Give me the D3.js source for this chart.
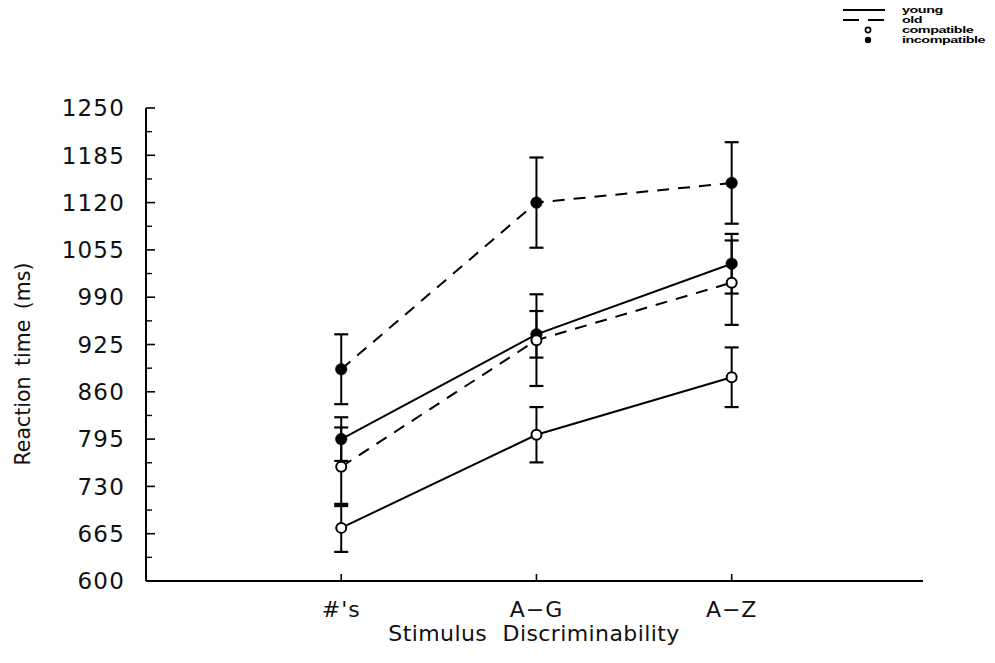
<!DOCTYPE html>
<html>
<head>
<meta charset="utf-8">
<script src="https://cdn.jsdelivr.net/npm/d3@7"></script>
<style>
  html, body { margin: 0; padding: 0; background: #fff; }
  svg { display: block; }
  .tick-label { font-family: "DejaVu Sans", sans-serif; font-size: 23px; fill: #111; letter-spacing: 1.2px; }
  .cat-label { font-family: "DejaVu Sans", sans-serif; font-size: 22px; fill: #111; letter-spacing: 1px; }
  .axis-title { font-family: "DejaVu Sans", sans-serif; font-size: 22px; fill: #111; }
  .legend-text { font-family: "Liberation Sans", Arial, sans-serif; font-size: 9px; font-weight: bold; fill: #000; letter-spacing: -0.3px; }
</style>
</head>
<body>
<svg id="chart" width="995" height="663"></svg>
<script>
// Stimulus discriminability conditions
const categories = ["#'s", "A-G", "A-Z"];

// Mean reaction times (ms) per age group and compatibility
const youngCompatible   = [673, 801, 880];
const youngIncompatible = [795, 939, 1036];
const oldCompatible     = [757, 931, 1010];
const oldIncompatible   = [891, 1120, 1147];

// Error bar half-lengths (ms)
const youngCompatibleErr   = [33, 38, 41];
const youngIncompatibleErr = [30, 32, 41];
const oldCompatibleErr     = [54, 63, 58];
const oldIncompatibleErr   = [48, 62, 56];

// Y axis tick values
const yTicks = [600, 665, 730, 795, 860, 925, 990, 1055, 1120, 1185, 1250];

const series = [
  { name: "young compatible",   values: youngCompatible,   err: youngCompatibleErr,   dashed: false, filled: false },
  { name: "young incompatible", values: youngIncompatible, err: youngIncompatibleErr, dashed: false, filled: true },
  { name: "old compatible",     values: oldCompatible,     err: oldCompatibleErr,     dashed: true,  filled: false },
  { name: "old incompatible",   values: oldIncompatible,   err: oldIncompatibleErr,   dashed: true,  filled: true }
];

const svg = d3.select("#chart");
const ink = "#000";

const x = d3.scaleLinear().domain([0, 3.98]).range([146, 923]);
const y = d3.scaleLinear().domain([600, 1250]).range([581, 108]);
const xPos = i => x(i + 1);

// Y axis: major ticks plus minor ticks halfway, pointing inward
const minorTicks = d3.range(600 + 32.5, 1250, 65);
svg.append("line")
  .attr("x1", x(0)).attr("x2", x(0))
  .attr("y1", y(1250)).attr("y2", y(600))
  .attr("stroke", ink).attr("stroke-width", 2);
svg.selectAll(".ymaj").data(yTicks).enter().append("line")
  .attr("x1", x(0)).attr("x2", x(0) + 9)
  .attr("y1", d => y(d)).attr("y2", d => y(d))
  .attr("stroke", ink).attr("stroke-width", 1.6);
svg.selectAll(".ymin").data(minorTicks).enter().append("line")
  .attr("x1", x(0)).attr("x2", x(0) + 6)
  .attr("y1", d => y(d)).attr("y2", d => y(d))
  .attr("stroke", ink).attr("stroke-width", 1.4);
svg.selectAll(".ylab").data(yTicks).enter().append("text")
  .attr("class", "tick-label")
  .attr("x", x(0) - 21)
  .attr("y", d => y(d))
  .attr("dy", "0.36em")
  .attr("text-anchor", "end")
  .text(d => d);

// X axis with small upward ticks at each condition
svg.append("line")
  .attr("x1", x(0)).attr("x2", x(3.98))
  .attr("y1", y(600)).attr("y2", y(600))
  .attr("stroke", ink).attr("stroke-width", 2);
svg.selectAll(".xt").data(categories).enter().append("line")
  .attr("x1", (d, i) => xPos(i)).attr("x2", (d, i) => xPos(i))
  .attr("y1", y(600)).attr("y2", y(600) - 7)
  .attr("stroke", ink).attr("stroke-width", 1.6);
svg.selectAll(".xlab").data(categories).enter().append("text")
  .attr("class", "cat-label")
  .attr("x", (d, i) => xPos(i))
  .attr("y", 617)
  .attr("text-anchor", "middle")
  .text(d => d.replace("-", "\u2212"));

// Axis titles
svg.append("text").attr("class", "axis-title")
  .attr("x", 534).attr("y", 641)
  .attr("text-anchor", "middle")
  .attr("word-spacing", "8px")
  .attr("letter-spacing", "0.4px")
  .text("Stimulus Discriminability");
svg.append("text").attr("class", "axis-title")
  .attr("transform", "translate(30,364) rotate(-90)")
  .attr("text-anchor", "middle")
  .style("font-size", "20.5px")
  .attr("word-spacing", "4px")
  .text("Reaction time (ms)");

// Connecting lines
const line = d3.line().x((d, i) => xPos(i)).y(d => y(d));
series.forEach(s => {
  svg.append("path")
    .datum(s.values)
    .attr("d", line)
    .attr("fill", "none")
    .attr("stroke", ink)
    .attr("stroke-width", 2)
    .attr("stroke-dasharray", s.dashed ? "12,9" : null);
});

// Error bars with caps
series.forEach(s => {
  const g = svg.append("g");
  s.values.forEach((v, i) => {
    const cx = xPos(i);
    const lo = y(v - s.err[i]), hi = y(v + s.err[i]);
    g.append("line").attr("x1", cx).attr("x2", cx).attr("y1", lo).attr("y2", hi)
      .attr("stroke", ink).attr("stroke-width", 2);
    [lo, hi].forEach(yy => {
      g.append("line").attr("x1", cx - 7).attr("x2", cx + 7).attr("y1", yy).attr("y2", yy)
        .attr("stroke", ink).attr("stroke-width", 2.2);
    });
  });
});

// Markers
series.forEach(s => {
  svg.selectAll(null).data(s.values).enter().append("circle")
    .attr("cx", (d, i) => xPos(i))
    .attr("cy", d => y(d))
    .attr("r", s.filled ? 5.8 : 5)
    .attr("fill", s.filled ? ink : "#fff")
    .attr("stroke", ink)
    .attr("stroke-width", s.filled ? 0.5 : 2);
});

// Legend
const lg = svg.append("g");
lg.append("line").attr("x1", 843).attr("x2", 885).attr("y1", 10).attr("y2", 10)
  .attr("stroke", ink).attr("stroke-width", 2);
lg.append("line").attr("x1", 843).attr("x2", 885).attr("y1", 20).attr("y2", 20)
  .attr("stroke", ink).attr("stroke-width", 2).attr("stroke-dasharray", "16,9");
lg.append("circle").attr("cx", 868).attr("cy", 30).attr("r", 2.6)
  .attr("fill", "#fff").attr("stroke", ink).attr("stroke-width", 1.6);
lg.append("circle").attr("cx", 868).attr("cy", 40).attr("r", 3.2).attr("fill", ink);
const legendLabels = ["young", "old", "compatible", "incompatible"];
const lgText = lg.append("g").attr("transform", "translate(902,0) scale(1.6,1)");
lgText.selectAll("text").data(legendLabels).enter().append("text")
  .attr("class", "legend-text")
  .attr("x", 0)
  .attr("y", (d, i) => 10 + i * 10)
  .attr("dy", "0.32em")
  .text(d => d);
</script>
</body>
</html>
